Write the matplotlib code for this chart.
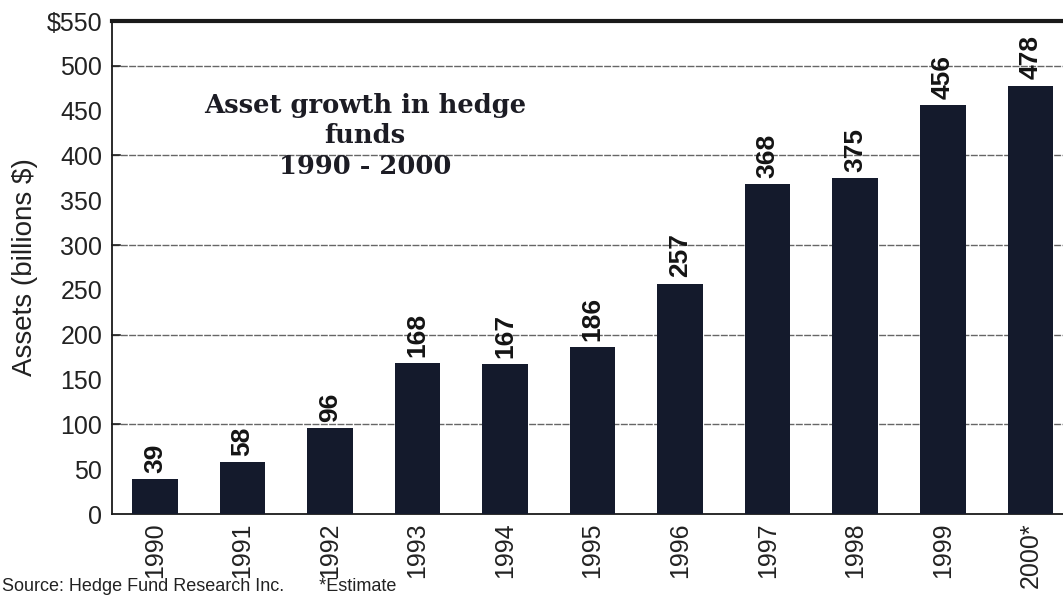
import matplotlib.pyplot as plt
import numpy as np

# hedge fund assets, billions of dollars
years = ["1990", "1991", "1992", "1993", "1994", "1995", "1996",
         "1997", "1998", "1999", "2000*"]
assets = [39, 58, 96, 168, 167, 186, 257, 368, 375, 456, 478]
yticks = [0, 50, 100, 150, 200, 250, 300, 350, 400, 450, 500, 550]
ytick_labels = ["0", "50", "100", "150", "200", "250", "300", "350",
                "400", "450", "500", "$550"]

narrow = ["Liberation Sans Narrow", "Liberation Sans", "DejaVu Sans"]

fig = plt.figure(figsize=(10.63, 5.95), dpi=100)
ax = fig.add_axes([0.1054, 0.136, 0.905, 0.8287])

x = np.arange(len(years))
bars = ax.bar(x, assets, width=0.52, color="#141a2c", zorder=3)

for xi, v in zip(x, assets):
    ax.text(xi, v + 7, str(v), rotation=90, ha="center", va="bottom",
            fontsize=19, fontweight="bold", family=narrow, color="#141414",
            zorder=4)

ax.set_xlim(-0.49, 10.5)
ax.set_ylim(0, 550)
ax.set_yticks(yticks)
ax.set_yticklabels(ytick_labels, family=narrow, fontsize=18, color="#222222")
ax.set_xticks(x)
ax.set_xticklabels(years, rotation=90, family=narrow, fontsize=18,
                   color="#222222")
ax.tick_params(axis="x", length=0, pad=6)
ax.tick_params(axis="y", length=0, pad=7)

# gridlines every 100 with short ticks on the axis line
for g in [100, 200, 300, 400, 500]:
    ax.axhline(g, color="#666666", lw=1.0, ls=(0, (5, 1)), zorder=1)
    ax.plot([-0.49, -0.40], [g, g], color="#222222", lw=1.2, zorder=2,
            clip_on=False)

ax.spines["right"].set_visible(False)
ax.spines["top"].set_linewidth(3.0)
ax.spines["left"].set_linewidth(1.3)
ax.spines["bottom"].set_linewidth(1.3)
for s in ax.spines.values():
    s.set_color("#1a1a1a")

ax.set_ylabel("Assets (billions $)", family=narrow, fontsize=20,
              color="#222222", labelpad=6)

ax.text(2.4, 470, "Asset growth in hedge\nfunds\n1990 - 2000",
        ha="center", va="top", family="DejaVu Serif", fontweight="bold",
        fontsize=18.5, color="#1c1c24", linespacing=1.27, zorder=5)

fig.text(0.002, 0.0, "Source: Hedge Fund Research Inc.       *Estimate",
         ha="left", va="bottom", family=["Liberation Sans", "DejaVu Sans"],
         fontsize=13, color="#222222")

fig.savefig("out.png", dpi=100)
